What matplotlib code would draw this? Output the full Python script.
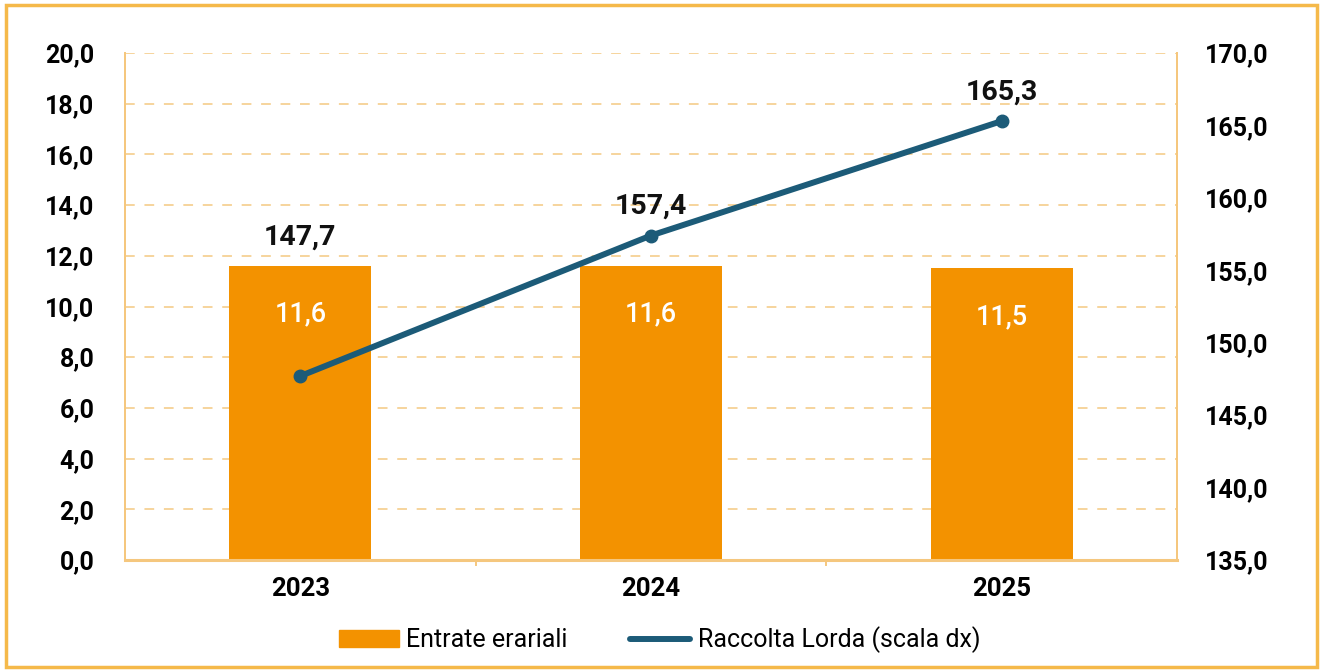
import matplotlib.pyplot as plt
from matplotlib.patches import Rectangle

# Data
anni = ['2023', '2024', '2025']
entrate_erariali = [11.6, 11.6, 11.5]
raccolta_lorda = [147.7, 157.4, 165.3]

bar_color = '#f39200'
line_color = '#1c5b78'
axis_color = '#f5c77e'
grid_color = '#f6d49c'

plt.rcParams['font.family'] = ['Roboto', 'DejaVu Sans']


def fmt(v):
    return f'{v:.1f}'.replace('.', ',')


fig = plt.figure(figsize=(13.22, 6.70), dpi=100)
ax = fig.add_axes([125 / 1322, 1 - 560 / 670, 1052 / 1322, 507 / 670])
ax2 = ax.twinx()

x = range(len(anni))
ax.bar(x, entrate_erariali, width=0.405, color=bar_color, zorder=2)
ax.set_xlim(-0.5, 2.5)
ax.set_ylim(0, 20)
ax.set_yticks(range(0, 21, 2))
ax.set_yticklabels([fmt(v) for v in range(0, 21, 2)])
ax.yaxis.grid(True, color=grid_color, linestyle=(0, (5, 5)), linewidth=1.4)
ax.set_axisbelow(True)

ax2.plot(x, raccolta_lorda, color=line_color, linewidth=4.3, marker='o',
         markersize=9, zorder=5, solid_capstyle='round')
ax2.set_ylim(135, 170)
ax2.set_yticks(range(135, 171, 5))
ax2.set_yticklabels([fmt(v) for v in range(135, 171, 5)])

# line axis drawn above the bars
ax2.set_zorder(ax.get_zorder() + 1)
ax2.patch.set_visible(False)

for a in (ax, ax2):
    a.spines['top'].set_visible(False)
    for side in ('left', 'right', 'bottom'):
        a.spines[side].set_color(axis_color)
        a.spines[side].set_linewidth(1.4)
    a.tick_params(axis='y', length=0, labelsize=18)
ax.tick_params(axis='y', pad=22)
ax2.tick_params(axis='y', pad=20)
for lbl in ax.get_yticklabels() + ax2.get_yticklabels():
    lbl.set_fontweight('bold')
ax.spines['bottom'].set_linewidth(2.2)

ax.set_xticks(x)
ax.set_xticklabels(anni, fontsize=18.5, fontweight='bold')
ax.tick_params(axis='x', length=0, pad=12)
for b in (0.5, 1.5):
    ax.plot([b, b], [0, -0.18], color=axis_color, lw=1.4, clip_on=False)

# bar value labels
for i, v in enumerate(entrate_erariali):
    ax.text(i, v - 1.9, fmt(v), ha='center', va='center',
            color='white', fontsize=19.5, fontweight='medium', zorder=3)

# line value labels
for i, v in enumerate(raccolta_lorda):
    left_equiv = (v - 135) / 35 * 20
    base = max(left_equiv, entrate_erariali[i])
    ax.annotate(fmt(v), xy=(i, base), xytext=(0, 21),
                textcoords='offset points', ha='center', va='center',
                fontsize=20.5, fontweight='bold', color='#111111', zorder=6)

# legend
handles = [Rectangle((0, 0), 1, 1, color=bar_color),
           plt.Line2D([0], [0], color=line_color, lw=4.3, solid_capstyle='round')]
fig.legend(handles, ['Entrate erariali', 'Raccolta Lorda (scala dx)'],
           loc='center', bbox_to_anchor=(0.499, 1 - 640 / 670), ncol=2,
           frameon=False, fontsize=18, handlelength=2.4, handleheight=0.7,
           columnspacing=2.5, handletextpad=0.3)

# outer border
fig.patches.append(Rectangle((6 / 1322, 3 / 670), 1311 / 1322, 662 / 670,
                             transform=fig.transFigure, fill=False,
                             edgecolor='#f5b94a', linewidth=2.5))

fig.savefig('out.png', dpi=100)
